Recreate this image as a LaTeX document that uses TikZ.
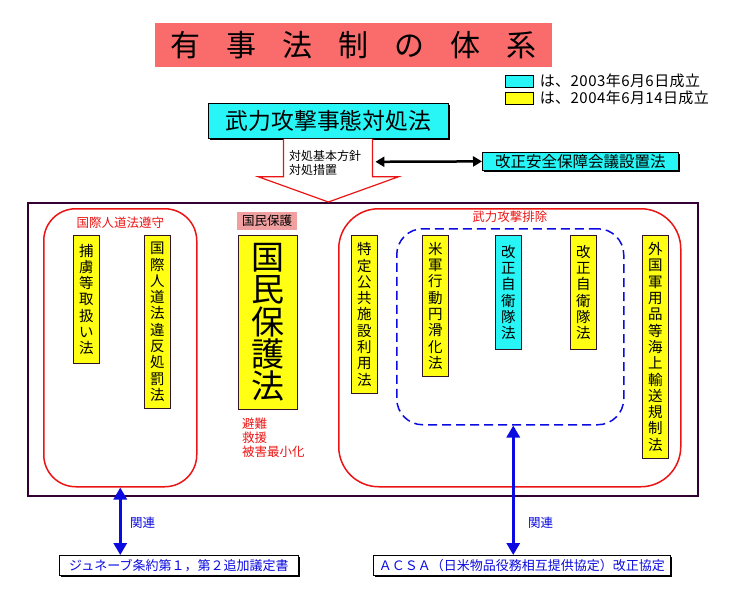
\documentclass[tikz,border=0pt]{standalone}
\usepackage{fontspec}
\setmainfont{Noto Sans CJK JP}
\usepackage{xcolor}
\usepackage{tikz}
\usetikzlibrary{shapes.geometric, arrows.meta, positioning, calc, shadows}

\definecolor{titlepink}{RGB}{250,108,108}
\definecolor{labelpink}{RGB}{240,160,160}
\definecolor{lawcyan}{RGB}{40,245,245}
\definecolor{lawyellow}{RGB}{255,255,20}
\definecolor{groupred}{RGB}{235,20,20}
\definecolor{outerpurple}{RGB}{50,0,50}
\definecolor{relblue}{RGB}{10,10,225}
\definecolor{boxline}{RGB}{50,20,40}

\begin{document}
\begin{tikzpicture}[
    x=1pt, y=-1pt,
    shadowed/.style={drop shadow={shadow xshift=2pt, shadow yshift=-2pt, fill=black, opacity=1}},
    lawbox/.style={rectangle, draw=boxline, line width=0.8pt, fill=lawyellow, inner sep=0pt, align=center, anchor=north west, minimum width=26pt, font=\fontsize{14.5}{16.3}\selectfont},
    mainbox/.style={rectangle, draw=black, line width=0.8pt, fill=lawcyan, inner sep=0pt, anchor=north west, shadowed},
    treatybox/.style={rectangle, draw=black, line width=0.8pt, fill=white, text=relblue, inner sep=0pt, anchor=north west, minimum height=20pt, font=\fontsize{13}{15}\selectfont, shadowed},
    groupbox/.style={rectangle, draw=groupred, line width=1.5pt, anchor=north west},
    grouplabel/.style={text=groupred, inner sep=0pt, font=\fontsize{12.5}{15}\selectfont},
    legendbox/.style={rectangle, draw=black, line width=0.6pt, minimum width=28pt, minimum height=12pt, inner sep=0pt, anchor=north west},
    legendtext/.style={inner sep=0pt, anchor=west, font=\fontsize{15}{17}\selectfont\addfontfeature{LetterSpace=3}},
    relarrow/.style={{Triangle[length=12pt,width=13pt]}-{Triangle[length=12pt,width=13pt]}, line width=3.5pt, draw=relblue},
    rellabel/.style={text=relblue, inner sep=0pt, font=\fontsize{12.5}{15}\selectfont}
]
\useasboundingbox (0,0) rectangle (730,600);

% title and legend
\node[rectangle, fill=titlepink, minimum width=397pt, minimum height=44pt, anchor=north west, inner sep=0pt,
      font=\fontsize{30}{34}\selectfont] (title) at (155,23) {\spaceskip=26pt\relax 有 事 法 制 の 体 系};
\node[legendbox, fill=lawcyan] (leg03) at (505,75) {};
\node[legendbox, fill=lawyellow] (leg04) at (505,92) {};
\node[legendtext, right=6pt of leg03] {は、2003年6月6日成立};
\node[legendtext, right=6pt of leg04] {は、2004年6月14日成立};

% top level law
\node[mainbox, minimum width=240pt, minimum height=35pt, font=\fontsize{22.8}{26}\selectfont] (taisho) at (208,103) {武力攻撃事態対処法};
\node[mainbox, minimum width=196pt, minimum height=18pt, font=\fontsize{15.5}{17}\selectfont] (anzen) at (482,152) {改正安全保障会議設置法};

% outer frame
\node[rectangle, draw=outerpurple, line width=2pt, minimum width=670pt, minimum height=293pt, anchor=north west] (outer) at (27,202) {};

% hollow arrow
\filldraw[draw=groupred, fill=white, line width=1.2pt]
    ($(taisho.south)+(-45,0)$) -- ++(0,38) -- ++(-25,0) -- (taisho.south |- outer.north)
    -- ($(taisho.south)+(70,38)$) -- ++(-26,0) -- ($(taisho.south)+(44,0)$);
\coordinate (shaftR) at ($(taisho.south)+(47,23)$);
\node[inner sep=0pt, anchor=north west, align=left, font=\fontsize{12}{14.5}\selectfont] (sochi) at (289,150) {対処基本方針\\対処措置};
\draw[{Triangle[length=9pt,width=10pt]}-{Triangle[length=9pt,width=10pt]}, line width=2.5pt] (shaftR) -- (anzen.west);

% international humanitarian law group
\node[groupbox, rounded corners=32pt, minimum width=153pt, minimum height=278pt] (jindo) at (43,208) {};
\node[grouplabel, below=9pt of jindo.north] (jindolbl) {国際人道法遵守};
\node[lawbox, minimum height=128pt] (horyo) at (73,235) {捕\\虜\\等\\取\\扱\\い\\法};
\node[lawbox, minimum height=173pt] (ihan) at (144,235) {国\\際\\人\\道\\法\\違\\反\\処\\罰\\法};

% civil protection
\node[rectangle, fill=labelpink, minimum width=60pt, minimum height=18pt, inner sep=0pt, anchor=north west,
      font=\fontsize{12.5}{15}\selectfont] (hogolbl) at (237,212) {国民保護};
\node[lawbox, minimum width=59pt, minimum height=174pt, font=\fontsize{33}{32.3}\selectfont] (hogo) at (238,235) {国\\民\\保\\護\\法};
\node[grouplabel, anchor=north west, align=left, font=\fontsize{12.5}{14}\selectfont] (hinan) at (242,418) {避難\\救援\\被害最小化};

% armed attack exclusion group
\node[groupbox, rounded corners=40pt, minimum width=342pt, minimum height=278pt] (haijo) at (338,208) {};
\node[grouplabel, below=3pt of haijo.north] (haijolbl) {武力攻撃排除};
\node[rectangle, draw=relblue, line width=1.5pt, dash pattern=on 9pt off 5pt, rounded corners=26pt,
      minimum width=227pt, minimum height=196pt, anchor=north west] (beigun) at (396,228) {};
\node[lawbox, minimum height=158pt] (shisetsu) at (351,235) {特\\定\\公\\共\\施\\設\\利\\用\\法};
\node[lawbox, minimum height=141pt] (enkatsu) at (422,235) {米\\軍\\行\\動\\円\\滑\\化\\法};
\node[lawbox, fill=lawcyan, minimum height=114pt] (jieitai03) at (495,235) {改\\正\\自\\衛\\隊\\法};
\node[lawbox, minimum height=114pt] (jieitai04) at (570,235) {改\\正\\自\\衛\\隊\\法};
\node[lawbox, minimum height=223pt] (kaijo) at (642,235) {外\\国\\軍\\用\\品\\等\\海\\上\\輸\\送\\規\\制\\法};

% related treaties
\node[treatybox, minimum width=239pt] (geneva) at (59,555) {ジュネーブ条約第１，第２追加議定書};
\node[treatybox, minimum width=297pt] (acsa) at (373,555) {ＡＣＳＡ（日米物品役務相互提供協定）改正協定};

\draw[relarrow] (jindo.south) -- (jindo.south |- geneva.north);
\draw[relarrow] ($(beigun.south)+(3,0)$) -- ($(beigun.south |- acsa.north)+(3,0)$);
\node[rellabel, anchor=west] at (130,523) {関連};
\node[rellabel, anchor=west] at (528,523) {関連};
\end{tikzpicture}
\end{document}
